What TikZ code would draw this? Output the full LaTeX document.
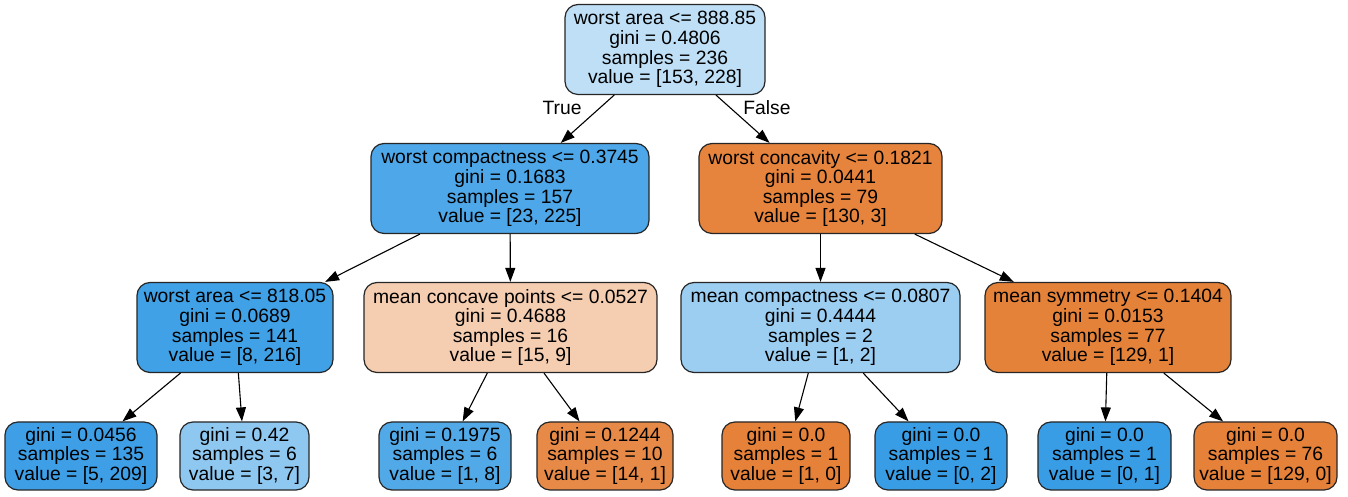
\documentclass[tikz,border=0pt]{standalone}
\usepackage{fontspec}
\setmainfont{Liberation Sans}
\usetikzlibrary{arrows.meta}
\definecolor{c0}{HTML}{BEDFF6}
\definecolor{c1}{HTML}{4DA7E8}
\definecolor{c2}{HTML}{E6843E}
\definecolor{c3}{HTML}{40A1E6}
\definecolor{c4}{HTML}{F5CDB0}
\definecolor{c5}{HTML}{9CCEF2}
\definecolor{c6}{HTML}{E5823A}
\definecolor{l1c}{HTML}{3E9FE6}
\definecolor{l2c}{HTML}{8EC7F0}
\definecolor{l3c}{HTML}{52A9E8}
\definecolor{l4c}{HTML}{E78A47}
\definecolor{orng}{HTML}{E58139}
\definecolor{blu}{HTML}{399DE5}
\begin{document}
\begin{tikzpicture}[x=1pt,y=1pt,
  tnode/.style={draw=black!85, line width=1.2pt, rounded corners=13pt, align=center,
    font=\fontsize{19.3}{19.6}\selectfont, inner sep=0pt, minimum height=90pt},
  leaf/.style={tnode, minimum height=68pt},
  edge/.style={line width=1.1pt, -{Triangle[length=14pt,width=10pt]}},
  lbl/.style={font=\fontsize{19.3}{19.6}\selectfont, inner sep=0pt}]
\useasboundingbox (0,0) rectangle (1348,497);
\fill[white] (0,0) rectangle (1348,497);
% level 0
\node[tnode, fill=c0, minimum width=200pt] (root) at (665,447.5) {worst area <= 888.85\\gini = 0.4806\\samples = 236\\value = [153, 228]};
% level 1
\node[tnode, fill=c1, minimum width=278pt] (n1) at (510,308.5) {worst compactness <= 0.3745\\gini = 0.1683\\samples = 157\\value = [23, 225]};
\node[tnode, fill=c2, minimum width=243pt] (n2) at (820.5,308.5) {worst concavity <= 0.1821\\gini = 0.0441\\samples = 79\\value = [130, 3]};
% level 2
\node[tnode, fill=c3, minimum width=196pt] (n3) at (235,169.5) {worst area <= 818.05\\gini = 0.0689\\samples = 141\\value = [8, 216]};
\node[tnode, fill=c4, minimum width=293pt] (n4) at (510.5,169.5) {mean concave points <= 0.0527\\gini = 0.4688\\samples = 16\\value = [15, 9]};
\node[tnode, fill=c5, minimum width=279pt] (n5) at (820.5,169.5) {mean compactness <= 0.0807\\gini = 0.4444\\samples = 2\\value = [1, 2]};
\node[tnode, fill=c6, minimum width=246pt] (n6) at (1108,169.5) {mean symmetry <= 0.1404\\gini = 0.0153\\samples = 77\\value = [129, 1]};
% leaves
\node[leaf, fill=l1c, minimum width=152pt] (l1) at (81,41) {gini = 0.0456\\samples = 135\\value = [5, 209]};
\node[leaf, fill=l2c, minimum width=129pt] (l2) at (244.5,41) {gini = 0.42\\samples = 6\\value = [3, 7]};
\node[leaf, fill=l3c, minimum width=132pt] (l3) at (445,41) {gini = 0.1975\\samples = 6\\value = [1, 8]};
\node[leaf, fill=l4c, minimum width=136pt] (l4) at (605,41) {gini = 0.1244\\samples = 10\\value = [14, 1]};
\node[leaf, fill=orng, minimum width=128pt] (l5) at (786,41) {gini = 0.0\\samples = 1\\value = [1, 0]};
\node[leaf, fill=blu, minimum width=132pt] (l6) at (941,41) {gini = 0.0\\samples = 1\\value = [0, 2]};
\node[leaf, fill=blu, minimum width=133pt] (l7) at (1104.5,41) {gini = 0.0\\samples = 1\\value = [0, 1]};
\node[leaf, fill=orng, minimum width=143pt] (l8) at (1265.5,41) {gini = 0.0\\samples = 76\\value = [129, 0]};
% edges
\draw[edge] (root) -- (n1);
\draw[edge] (root) -- (n2);
\draw[edge] (n1) -- (n3);
\draw[edge] (n1) -- (n4);
\draw[edge] (n2) -- (n5);
\draw[edge] (n2) -- (n6);
\draw[edge] (n3) -- (l1);
\draw[edge] (n3) -- (l2);
\draw[edge] (n4) -- (l3);
\draw[edge] (n4) -- (l4);
\draw[edge] (n5) -- (l5);
\draw[edge] (n5) -- (l6);
\draw[edge] (n6) -- (l7);
\draw[edge] (n6) -- (l8);
% edge labels
\node[lbl] (ltrue) at (562,389) {True};
\node[lbl] (lfalse) at (767,389) {False};
\end{tikzpicture}
\end{document}
